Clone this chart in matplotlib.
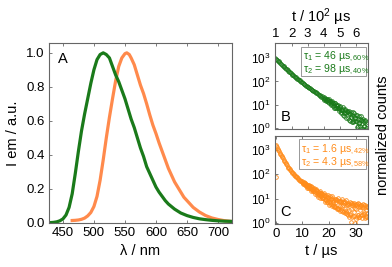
import numpy as np
import matplotlib
matplotlib.use('Agg')
import matplotlib.pyplot as plt
from matplotlib.patches import Rectangle

plt.rcParams['font.family'] = ['Liberation Sans', 'DejaVu Sans']
plt.rcParams['mathtext.fontset'] = 'custom'
plt.rcParams['mathtext.rm'] = 'Liberation Sans'
plt.rcParams['mathtext.it'] = 'Liberation Sans:italic'

GREEN = '#1a7a1a'
ORANGE_A = '#ff8a4c'
ORANGE_C = '#ff8c1a'
SPINE = '#666666'

# --- panel A: emission spectra ---
wl_green = [428, 435, 440, 445, 450, 455, 460, 465, 470, 475, 480, 485, 490, 495, 500, 505, 510,
            515, 520, 525, 530, 535, 540, 545, 550, 555, 560, 565, 570, 575, 580, 585, 590, 595,
            600, 605, 610, 615, 620, 630, 640, 650, 660, 670, 680, 690, 700, 710, 720]
em_green = [0.0, 0.002, 0.005, 0.011, 0.022, 0.045, 0.09, 0.17, 0.29, 0.42, 0.54, 0.64, 0.73,
            0.82, 0.90, 0.96, 0.99, 1.0, 0.99, 0.97, 0.92, 0.87, 0.83, 0.78, 0.73, 0.67, 0.61,
            0.56, 0.50, 0.44, 0.39, 0.33, 0.29, 0.25, 0.21, 0.18, 0.155, 0.13, 0.11, 0.08, 0.057,
            0.042, 0.031, 0.023, 0.018, 0.014, 0.011, 0.009, 0.008]
wl_orange = [465, 470, 475, 480, 485, 490, 495, 500, 505, 510, 515, 520, 525, 530, 535, 540, 545,
             550, 553, 557, 560, 565, 570, 575, 580, 585, 590, 595, 600, 605, 610, 615, 620, 625,
             630, 635, 640, 645, 650, 660, 670, 680, 690, 700, 710, 720]
em_orange = [0.013, 0.014, 0.016, 0.02, 0.027, 0.04, 0.06, 0.095, 0.155, 0.25, 0.37, 0.50, 0.62,
             0.73, 0.835, 0.92, 0.97, 0.995, 1.0, 0.99, 0.97, 0.93, 0.87, 0.81, 0.76, 0.70, 0.635,
             0.575, 0.525, 0.47, 0.42, 0.37, 0.32, 0.28, 0.24, 0.21, 0.18, 0.15, 0.13, 0.09,
             0.063, 0.042, 0.028, 0.019, 0.012, 0.008]

# --- panel B: decay (time in 10^2 us) ---
t_b = [1.0, 1.05, 1.1, 1.15, 1.2, 1.25, 1.3, 1.35, 1.4, 1.45, 1.5, 1.55, 1.6, 1.65, 1.7, 1.75,
       1.8, 1.85, 1.9, 1.95, 2.0, 2.05, 2.1, 2.15, 2.2, 2.25, 2.3, 2.35, 2.4, 2.45, 2.5, 2.55,
       2.6, 2.65, 2.7, 2.75, 2.8, 2.85, 2.9, 2.95, 3.0, 3.05, 3.1, 3.15, 3.2, 3.25, 3.3, 3.35,
       3.4, 3.45, 3.5, 3.55, 3.6, 3.65, 3.7, 3.75, 3.8, 3.85, 3.9, 3.95,
       4.0, 4.05, 4.1, 4.15, 4.2, 4.25, 4.3, 4.35, 4.4, 4.45, 4.5, 4.55, 4.6, 4.65, 4.7, 4.75,
       4.8, 4.85, 4.9, 4.95, 5.0, 5.05, 5.1, 5.15, 5.2, 5.25, 5.3, 5.35, 5.4, 5.45, 5.5, 5.55,
       5.6, 5.65, 5.7, 5.75, 5.8, 5.85, 5.9, 5.95, 6.0, 6.05, 6.1, 6.15, 6.2, 6.25, 6.3, 6.35,
       6.4, 6.45, 6.5, 6.55, 6.6, 6.65, 6.7, 6.75,
       4.025, 4.075, 4.125, 4.175, 4.225, 4.275, 4.325, 4.375, 4.425, 4.475, 4.525, 4.575,
       4.625, 4.675, 4.725, 4.775, 4.825, 4.875, 4.925, 4.975, 5.025, 5.075, 5.125, 5.175,
       5.225, 5.275, 5.325, 5.375, 5.425, 5.475, 5.525, 5.575, 5.625, 5.675, 5.725, 5.775,
       5.825, 5.875, 5.925, 5.975, 6.025, 6.075, 6.125, 6.175, 6.225, 6.275, 6.325, 6.375,
       6.425, 6.475, 6.525, 6.575, 6.625, 6.675, 6.725]
counts_b = [1000, 918, 844, 777, 715, 658, 607, 560, 517, 478, 442, 410, 380, 352, 327, 304,
            282, 263, 244, 228, 212, 198, 185, 173, 162, 151, 142, 133, 124, 117, 110, 103,
            97, 91, 85, 80.5, 76, 71.4, 67, 63.4, 60, 56.4, 53, 50.2, 47, 44.8, 42, 40,
            38, 35, 34.5, 31, 30.5, 28, 27.5, 25, 25.5, 22, 23.5, 20,
            20.6, 16.7, 17.0, 14.7, 17.5, 12.8, 17.2, 14.0, 14.1, 9.7, 14.4, 11.5, 11.8, 7.4, 12.2, 7.6,
            10.1, 8.5, 7.0, 6.5, 7.8, 4.5, 6.2, 6.3, 6.9, 3.4, 6.5, 4.3, 4.4, 5.2, 4.8, 2.3,
            5.3, 4.0, 2.9, 1.9, 4.8, 2.1, 3.2, 2.6, 2.0, 1.8, 3.7, 1.25, 1.6, 2.4, 3.2, 0.93,
            2.25, 2.0, 1.2, 0.83, 1.97, 1.0, 1.9, 0.78,
            18.1, 19.5, 15.4, 18.3, 14.4, 15.6, 11.8, 15.1, 12.0, 10.4, 13.4, 8.7,
            10.05, 12.0, 7.1, 9.5, 7.4, 10.1, 5.55, 7.35, 8.9, 5.0, 5.95, 3.7,
            7.8, 4.6, 5.9, 2.8, 4.85, 5.6, 2.7, 4.3, 1.95, 5.1, 2.9, 3.8,
            1.9, 4.4, 2.1, 2.75, 3.65, 1.1, 2.55, 1.7, 3.35, 1.2, 2.25, 1.55,
            0.94, 2.4, 1.27, 2.3, 0.7, 1.5, 0.86]

# --- panel C: decay (time in us) ---
t_c = [0.0, 0.0, 0.25, 0.5, 0.75, 1.0, 1.25, 1.5, 1.75, 2.0, 2.25, 2.5, 2.75, 3.0, 3.25, 3.5,
       3.75, 4.0, 4.25, 4.5, 4.75, 5.0, 5.25, 5.5, 5.75, 6.0, 6.25, 6.5, 6.75, 7.0, 7.25, 7.5,
       7.75, 8.0, 8.25, 8.5, 8.75, 9.0, 9.25, 9.5, 9.75,
       10.0, 10.25, 10.5, 10.75, 11.0, 11.25, 11.5, 11.75, 12.0, 12.25, 12.5, 12.75, 13.0, 13.25,
       13.5, 13.75, 14.0, 14.25, 14.5, 14.75, 15.0, 15.25, 15.5, 15.75, 16.0, 16.25, 16.5, 16.75,
       17.0, 17.25, 17.5, 17.75, 18.0, 18.25, 18.5, 18.75, 19.0, 19.25, 19.5, 19.75, 20.0, 20.25,
       20.5, 20.75, 21.0, 21.25, 21.5, 21.75, 22.0, 22.25, 22.5, 22.75, 23.0, 23.25, 23.5, 23.75,
       24.0, 24.25, 24.5, 24.75, 25.0, 25.25, 25.5, 25.75, 26.0, 26.25, 26.5, 26.75, 27.0, 27.25,
       27.5, 27.75, 28.0, 28.25, 28.5, 28.75, 29.0, 29.25, 29.5, 29.75, 30.0, 30.25, 30.5, 30.75,
       31.0, 31.25, 31.5, 31.75, 32.0, 32.25, 32.5, 32.75, 33.0, 33.25, 33.5, 33.75, 34.0, 34.25,
       34.5,
       10.125, 10.375, 10.625, 10.875, 11.125, 11.375, 11.625, 11.875, 12.125, 12.375, 12.625,
       12.875, 13.125, 13.375, 13.625, 13.875, 14.125, 14.375, 14.625, 14.875, 15.125, 15.375,
       15.625, 15.875, 16.125, 16.375, 16.625, 16.875, 17.125, 17.375, 17.625, 17.875, 18.125,
       18.375, 18.625, 18.875, 19.125, 19.375, 19.625, 19.875, 20.125, 20.375, 20.625, 20.875,
       21.125, 21.375, 21.625, 21.875, 22.125, 22.375, 22.625, 22.875, 23.125, 23.375, 23.625,
       23.875, 24.125, 24.375, 24.625, 24.875, 25.125, 25.375, 25.625, 25.875, 26.125, 26.375,
       26.625, 26.875, 27.125, 27.375, 27.625, 27.875, 28.125, 28.375, 28.625, 28.875, 29.125,
       29.375, 29.625, 29.875, 30.125, 30.375, 30.625, 30.875, 31.125, 31.375, 31.625, 31.875,
       32.125, 32.375, 32.625, 32.875, 33.125, 33.375, 33.625, 33.875, 34.125, 34.375]
counts_c = [1650, 75, 1450, 1300, 1140, 1000, 880, 780, 695, 620, 555, 500, 448, 400, 358, 320,
            288, 260, 233, 210, 191, 175, 162, 150, 139, 130, 117, 112, 100, 97, 88, 86,
            76, 75, 68, 67, 60, 60, 54, 54, 48,
            52, 43, 47, 41, 44, 37, 40, 34, 37, 30, 34, 28, 31, 25, 30, 22, 26, 20, 24, 19,
            22, 17, 21, 15, 19, 14, 17, 12.5, 16.5, 11, 15, 10.5, 14, 9, 13, 8.5, 12, 7.5,
            11.5, 7, 11, 6.2, 10, 5.8, 10.5, 5.3, 9.2, 4.8, 9.5, 4.5, 8.5, 4.2, 8.8, 3.8, 7.8, 3.6,
            8.2, 3.3, 7.2, 3.1, 7.6, 2.9, 6.8, 2.7, 7.2, 2.5, 6.3, 2.3, 6.8, 1.8, 6.0, 2.1,
            6.5, 1.1, 5.6, 2.0, 6.2, 1.9, 5.3, 1.05, 6.0, 1.8, 5.0, 2.2, 5.8, 1.7, 4.9, 2.1,
            5.6, 1.6, 4.7, 2.3, 5.4, 1.6, 4.5, 2.0, 5.2, 1.7, 4.4,
            41, 46, 46, 36, 44, 34, 28, 37, 27, 36, 28, 34, 32, 20, 26, 20,
            20, 27, 15.5, 22, 24.7, 14.6, 18.5, 11.9, 15.4, 21, 10.5, 16.7, 10.3, 15.8, 11.4, 17.2,
            13, 7.4, 14.3, 9.1, 7.2, 14.5, 9.2, 5.7, 12.4, 7.1, 9.6, 5.2, 12.3, 7.2, 4.5, 9.1,
            5.2, 9.4, 7.0, 3.8, 10.4, 4.1, 7.4, 5.0, 3.05, 8.4, 5.0, 9.3, 5.3, 3.0, 8.1, 3.7,
            8.7, 3.0, 5.4, 2.2, 5.7, 3.5, 7.4, 2.3, 3.8, 6.4, 1.7, 5.4, 6.7, 2.9, 4.3, 1.4,
            3.6, 5.9, 2.1, 6.5, 1.7, 4.5, 3.5, 5.3, 4.7, 2.1, 5.8, 2.8, 2.4, 5.4, 3.4, 1.7,
            4.7, 2.7]

fig = plt.figure(figsize=(3.92, 2.67), dpi=100)
axA = fig.add_axes([0.124, 0.164, 0.467, 0.675])
axB = fig.add_axes([0.7015, 0.515, 0.237, 0.323])
axC = fig.add_axes([0.7015, 0.161, 0.237, 0.330])

for ax in (axA, axB, axC):
    for sp in ax.spines.values():
        sp.set_color(SPINE)
        sp.set_linewidth(0.8)
    ax.tick_params(direction='in', length=2.5, width=0.6, color=SPINE, labelsize=9, pad=3)

# A
axA.plot(wl_orange, em_orange, color=ORANGE_A, lw=2.3)
axA.plot(wl_green, em_green, color=GREEN, lw=2.3)
axA.set_xlim(427, 722)
axA.set_ylim(-0.003, 1.058)
axA.set_xticks([450, 500, 550, 600, 650, 700])
axA.set_yticks([0.0, 0.2, 0.4, 0.6, 0.8, 1.0])
axA.yaxis.set_major_formatter(plt.FormatStrFormatter('%.1f'))
axA.tick_params(top=True, labelsize=9.5)
axA.set_xlabel('λ / nm', fontsize=10.5, labelpad=3)
axA.set_ylabel('I em / a.u.', fontsize=10.5, labelpad=4)
axA.text(0.05, 0.95, 'A', transform=axA.transAxes, fontsize=10.5, va='top', ha='left')

# B
axB.plot(t_b, counts_b, 'o', mfc='none', mec=GREEN, ms=2.6, mew=0.6)
axB.set_yscale('log')
axB.set_xlim(0.97, 6.75)
axB.set_ylim(0.88, 4300)
axB.set_xticks([1, 2, 3, 4, 5, 6])
axB.xaxis.tick_top()
axB.tick_params(axis='x', bottom=True, top=True, labelbottom=False, labeltop=True, labelsize=9.5, pad=2)
axB.tick_params(axis='y', labelsize=8.5)
axB.set_yticks([1, 10, 100, 1000])
axB.minorticks_off()
axB.xaxis.set_label_position('top')
axB.set_xlabel('t / 10$^2$ µs', fontsize=10.5, labelpad=5)
axB.text(0.06, 0.06, 'B', transform=axB.transAxes, fontsize=10.5, va='bottom', ha='left')
axB.add_patch(Rectangle((0.28, 0.62), 0.70, 0.335, transform=axB.transAxes,
                        fc='white', ec='#888888', lw=0.6, zorder=3))
axB.text(0.30, 0.84, 'τ$_1$ = 46 µs$_{,60\\%}$', transform=axB.transAxes, color=GREEN,
         fontsize=7.6, va='center', zorder=4)
axB.text(0.30, 0.69, 'τ$_2$ = 98 µs$_{,40\\%}$', transform=axB.transAxes, color=GREEN,
         fontsize=7.6, va='center', zorder=4)

# C
axC.plot(t_c, counts_c, 'o', mfc='none', mec=ORANGE_C, ms=2.6, mew=0.6)
axC.set_yscale('log')
axC.set_xlim(-0.3, 34.5)
axC.set_ylim(0.91, 3800)
axC.set_xticks([0, 10, 20, 30])
axC.set_yticks([1, 10, 100, 1000])
axC.minorticks_off()
axC.tick_params(axis='x', top=True, labelsize=9.5)
axC.tick_params(axis='y', labelsize=8.5)
axC.set_xlabel('t / µs', fontsize=10.5, labelpad=3)
axC.text(0.06, 0.06, 'C', transform=axC.transAxes, fontsize=10.5, va='bottom', ha='left')
axC.add_patch(Rectangle((0.26, 0.62), 0.725, 0.34, transform=axC.transAxes,
                        fc='white', ec='#888888', lw=0.6, zorder=3))
axC.text(0.28, 0.845, 'τ$_1$ = 1.6 µs$_{,42\\%}$', transform=axC.transAxes, color=ORANGE_C,
         fontsize=7.6, va='center', zorder=4)
axC.text(0.28, 0.695, 'τ$_2$ = 4.3 µs$_{,58\\%}$', transform=axC.transAxes, color=ORANGE_C,
         fontsize=7.6, va='center', zorder=4)

fig.text(0.978, 0.495, 'normalized counts', rotation=90, ha='center', va='center', fontsize=10.5)

fig.savefig('out.png', dpi=100)
